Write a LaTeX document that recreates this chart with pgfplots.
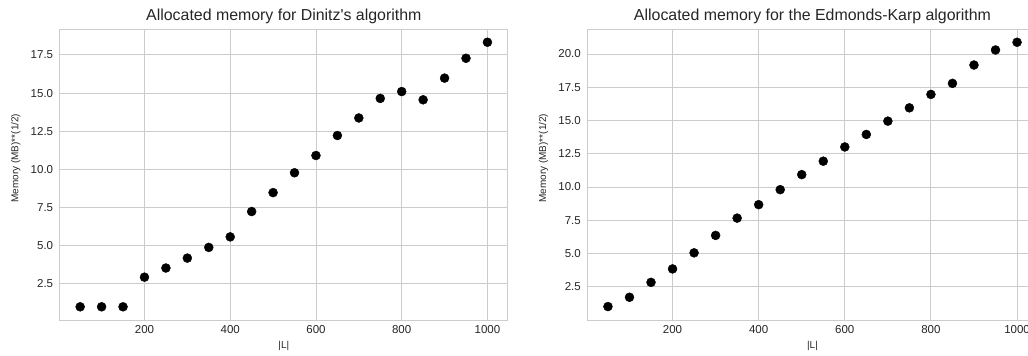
\documentclass[border=0pt]{standalone}
\usepackage{fontspec}
\setmainfont{Liberation Sans}
\usepackage{pgfplots}
\pgfplotsset{compat=1.18}
\definecolor{txt}{HTML}{262626}
\definecolor{gridc}{HTML}{CCCCCC}
\pgfplotsset{
  every axis title shift=0pt,
  memstyle/.style={
    scale only axis,
    width=448pt, height=290.5pt,
    anchor=south west,
    xmin=2.5, xmax=1047.5,
    xtick={200,400,600,800,1000},
    grid=major,
    major grid style={color=gridc, line width=0.9pt},
    axis line style={color=gridc, line width=0.9pt},
    major tick length=0pt,
    minor tick num=0,
    tick style={draw=none},
    /pgf/number format/assume math mode=true,
    ticklabel style={font=\fontsize{11.5}{13}\selectfont, text=txt},
    xticklabel style={anchor=base, yshift=-14pt, inner sep=0pt},
    yticklabel style={anchor=east, xshift=-6.5pt, inner sep=0pt,
      /pgf/number format/.cd, fixed, fixed zerofill, precision=1},
    xticklabel style={/pgf/number format/.cd, fixed, precision=0, 1000 sep={}},
    title style={font=\fontsize{15.9}{18}\selectfont, text=txt,
      at={(axis description cs:0.5,1)}, anchor=base, yshift=9pt, inner sep=0pt},
    xlabel style={font=\fontsize{10}{12}\selectfont, text=txt,
      at={(axis description cs:0.5,0)}, anchor=base, yshift=-29pt, inner sep=0pt},
    ylabel style={font=\fontsize{10}{12}\selectfont, text=txt,
      at={(axis description cs:0,0.557)}, anchor=center, yshift=44pt, inner sep=0pt},
    xlabel={|L|},
    ylabel={Memory (MB)**(1/2)},
    axis background/.style={fill=white},
  },
}
\begin{document}
\begin{tikzpicture}
\useasboundingbox (0,0) rectangle (1028pt,356pt);
\clip (0,0) rectangle (1028pt,356pt);
\begin{axis}[memstyle,
  at={(59.8pt,36pt)},
  ymin=0.135, ymax=19.165,
  ytick={2.5,5,7.5,10,12.5,15,17.5},
  title={Allocated memory for Dinitz\textquotesingle s algorithm}]
\addplot[only marks, mark=*, mark size=4.5pt, color=black, fill=black] coordinates {
(50,1.0) (100,1.0) (150,1.0) (200,2.94) (250,3.54) (300,4.19) (350,4.89)
(400,5.58) (450,7.24) (500,8.48) (550,9.78) (600,10.91) (650,12.22)
(700,13.37) (750,14.65) (800,15.10) (850,14.56) (900,15.98) (950,17.28)
(1000,18.33)
};
\end{axis}
\begin{axis}[memstyle,
  at={(587.5pt,36pt)}, width=450pt,
  ymin=0.0, ymax=21.84,
  ytick={2.5,5,7.5,10,12.5,15,17.5,20},
  title={Allocated memory for the Edmonds-Karp algorithm}]
\addplot[only marks, mark=*, mark size=4.5pt, color=black, fill=black] coordinates {
(50,1.01) (100,1.71) (150,2.83) (200,3.84) (250,5.05) (300,6.36) (350,7.66)
(400,8.67) (450,9.80) (500,10.93) (550,11.94) (600,13.01) (650,13.95)
(700,14.95) (750,15.95) (800,16.96) (850,17.79) (900,19.17) (950,20.30)
(1000,20.88)
};
\end{axis}
\end{tikzpicture}
\end{document}
